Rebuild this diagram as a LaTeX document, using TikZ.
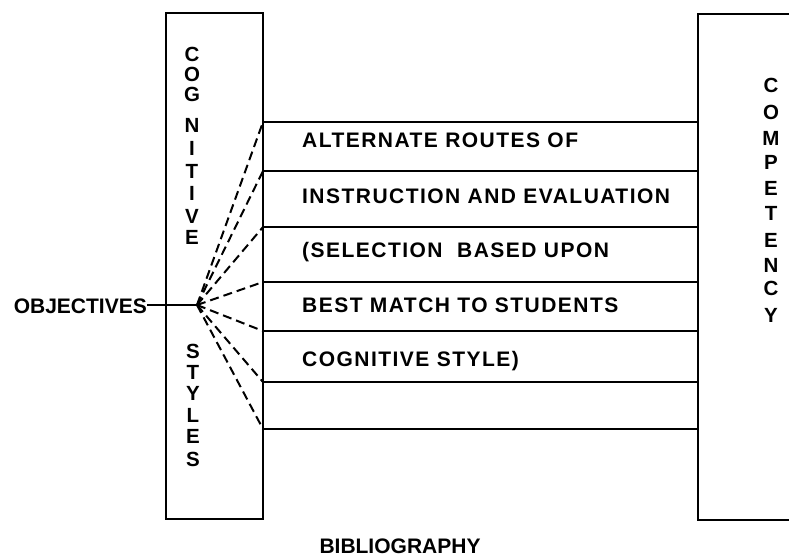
\documentclass[tikz,border=0pt]{standalone}
\usepackage{fontspec}
\setmainfont{Liberation Sans}
\newfontfamily\bodyfont{Liberation Sans}[LetterSpace=7]
\newfontfamily\plainfont{Liberation Sans}
\begin{document}
\begin{tikzpicture}[x=1pt,y=-1pt,
  boxline/.style={line width=2pt},
  rowline/.style={line width=1.8pt},
  fanline/.style={line width=2pt, dash pattern=on 9pt off 5pt},
  txt/.style={inner sep=0pt, anchor=base west, font=\bodyfont\bfseries\fontsize{21}{24}\selectfont},
  vlet/.style={inner sep=0pt, anchor=base, font=\plainfont\bfseries\fontsize{20.5}{22}\selectfont},
  lbl/.style={inner sep=0pt, font=\plainfont\bfseries\fontsize{21}{24}\selectfont}]
\useasboundingbox (0,0) rectangle (789,558);

% left box (cognitive styles)
\node[draw, boxline, inner sep=0pt, minimum width=97pt, minimum height=506pt] (cogbox) at (214.5,266) {};

% right box (competency), open at the right edge
\coordinate (rbTR) at (789,14);
\coordinate (rbTL) at (698,14);
\coordinate (rbBL) at (698,520);
\coordinate (rbBR) at (789,520);
\draw[boxline] (rbTR) -- (rbTL) -- (rbBL) -- (rbBR);

% hub and rows
\coordinate (hub) at (197,305);
\foreach \y [count=\i] in {122,171,227,282,331,382,429} {
  \coordinate (L\i) at (263,\y);
  \coordinate (R\i) at (698,\y);
  \draw[rowline] (L\i) -- (R\i);
  \draw[fanline] (hub) -- (L\i);
}

% objectives
\node[lbl, anchor=base east] (obj) at (147,313) {OBJECTIVES};
\draw[rowline] (hub -| obj.east) -- (hub);

% vertical words
\foreach \l/\y [count=\i] in {C/54,O/74,G/94,N/125,I/148,T/171,I/193,V/216,E/237}
  \node[vlet] (cog\i) at (192,\y+7) {\l};
\foreach \l/\y [count=\i] in {S/351,T/372,Y/393,L/415,E/436,S/459}
  \node[vlet] (sty\i) at (193,\y+7) {\l};
\foreach \l/\y [count=\i] in {C/85,O/112,M/138,P/162,E/188,T/213,E/240,N/265,C/288,Y/315}
  \node[vlet] (comp\i) at (771,\y+7) {\l};

% row texts
\node[txt] (t1) at (302,147) {ALTERNATE ROUTES OF};
\node[txt] (t2) at (302,203) {INSTRUCTION AND EVALUATION};
\node[txt] (t3) at (302,257) {(SELECTION\ \ BASED UPON};
\node[txt] (t4) at (302,312) {BEST MATCH TO STUDENTS};
\node[txt] (t5) at (302,366) {COGNITIVE STYLE)};

% bibliography
\node[lbl, anchor=base] (bib) at (400,553) {BIBLIOGRAPHY};
\end{tikzpicture}
\end{document}
